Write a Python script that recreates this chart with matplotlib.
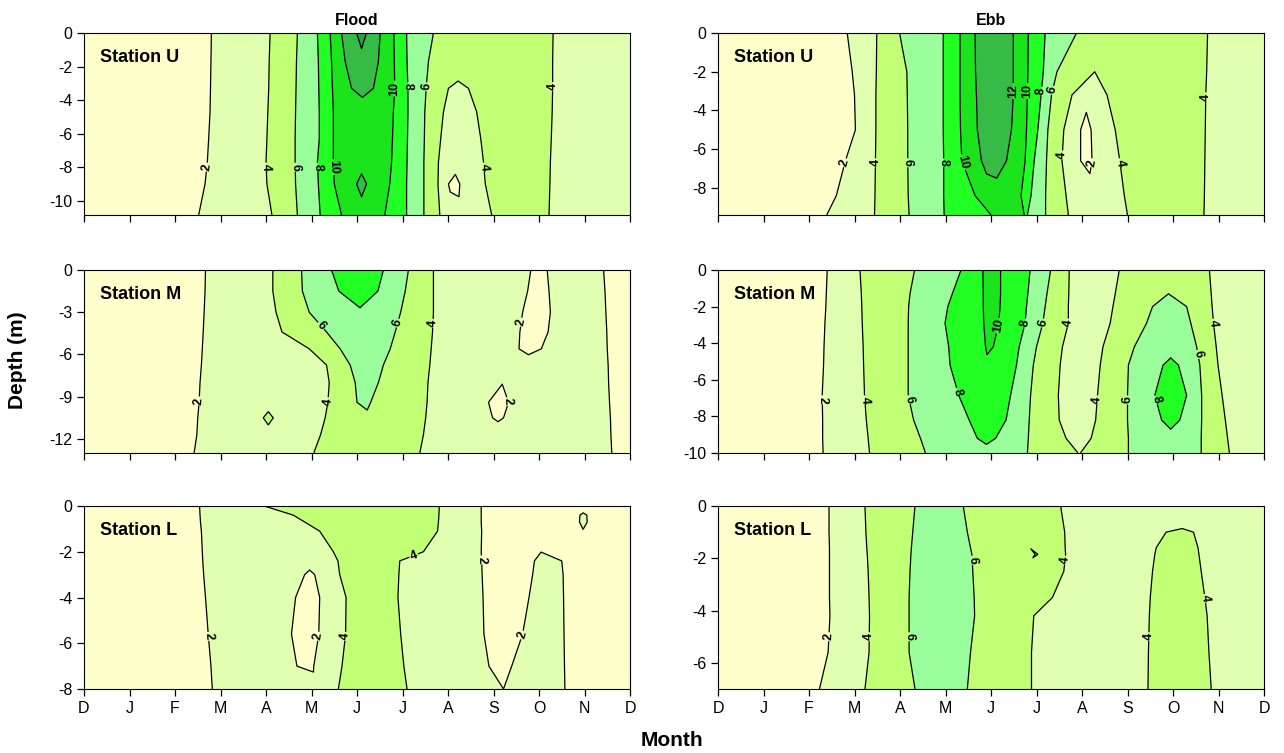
import numpy as np
import matplotlib
matplotlib.use("Agg")
import matplotlib.pyplot as plt
import matplotlib.tri as mtri

plt.rcParams['font.family'] = ['Liberation Sans', 'DejaVu Sans']
plt.rcParams['axes.unicode_minus'] = False

month_labels = ['D', 'J', 'F', 'M', 'A', 'M', 'J', 'J', 'A', 'S', 'O', 'N', 'D']
levels = [0, 2, 4, 6, 8, 10, 12, 14, 16]
fill_colors = ['#FFFFCC', '#E1FFB0', '#C1FF74', '#9AFF9A', '#22FF22',
               '#1CE41C', '#36BC46', '#2C9C48']

# ---- Flood, station U : values read along rows of constant depth
flood_u_depth = [0, -1.7, -3.3, -4.7, -6.3, -7.7, -9.0, -10.85]
flood_u_month = [
    [0, 2.80, 4.09, 4.69, 5.13, 5.41, 5.66, 5.99, 6.10, 6.21, 6.51, 6.81, 7.09, 7.68, 9.3, 10.31, 12],
    [0, 2.79, 4.07, 4.67, 5.15, 5.44, 5.74, 6.10, 6.47, 6.82, 7.10, 7.57, 8.2, 9.3, 10.3, 12],
    [0, 2.78, 4.06, 4.66, 5.16, 5.46, 5.88, 6.12, 6.36, 6.83, 7.12, 7.52, 8.01, 8.23, 8.45, 9.4, 10.3, 12],
    [0, 2.77, 4.04, 4.65, 5.17, 5.48, 6.12, 6.80, 7.12, 7.49, 7.90, 8.25, 8.63, 9.5, 10.29, 12],
    [0, 2.74, 4.02, 4.64, 5.17, 5.48, 6.12, 6.78, 7.11, 7.48, 7.84, 8.28, 8.72, 9.5, 10.27, 12],
    [0, 2.71, 4.00, 4.64, 5.13, 5.48, 6.10, 6.76, 7.10, 7.47, 7.79, 8.2, 8.78, 9.5, 10.25, 12],
    [0, 2.66, 4.02, 4.65, 5.15, 5.50, 5.99, 6.10, 6.21, 6.72, 7.09, 7.47, 7.78, 8.01, 8.13, 8.26, 8.82, 9.5, 10.24, 12],
    [0, 2.52, 4.13, 4.69, 5.19, 5.66, 6.1, 6.61, 7.09, 7.47, 7.82, 8.4, 8.96, 9.5, 10.22, 12],
]
flood_u_value = [
    [1, 2, 4, 6, 8, 10, 12, 14, 14.6, 14, 12, 10, 8, 6, 5, 4, 3],
    [1, 2, 4, 6, 8, 10, 12, 13.5, 12, 10, 8, 6, 4.8, 5, 4, 3],
    [1, 2, 4, 6, 8, 10, 12, 12.5, 12, 10, 8, 6, 4, 3.7, 4, 5, 4, 3],
    [1, 2, 4, 6, 8, 10, 11.2, 10, 8, 6, 4, 3, 4, 5, 4, 3],
    [1, 2, 4, 6, 8, 10, 11.2, 10, 8, 6, 4, 3, 4, 5, 4, 3],
    [1, 2, 4, 6, 8, 10, 11.2, 10, 8, 6, 4, 2.9, 4, 5, 4, 3],
    [1, 2, 4, 6, 8, 10, 12, 12.7, 12, 10, 8, 6, 4, 2, 1.3, 2, 4, 5, 4, 3],
    [1, 2, 4, 6, 8, 10, 11.0, 10, 8, 6, 4, 3, 4, 5, 4, 3],
]

# ---- Ebb, station U
ebb_u_depth = [0, -2, -3.2, -5, -6.6, -8.4, -9.4]
ebb_u_month = [
    [0, 2.84, 3.49, 3.99, 4.95, 5.32, 5.65, 6.07, 6.49, 6.82, 7.19, 7.88, 9.2, 10.76, 12],
    [0, 2.95, 3.48, 4.15, 4.95, 5.32, 5.66, 6.07, 6.49, 6.81, 7.15, 7.45, 8.28, 9.2, 10.74, 12],
    [0, 3.0, 3.47, 4.16, 4.95, 5.32, 5.68, 6.07, 6.49, 6.80, 7.10, 7.33, 7.78, 8.1, 8.55, 9.3, 10.72, 12],
    [0, 3.02, 3.47, 4.17, 4.95, 5.33, 5.70, 6.05, 6.45, 6.78, 7.03, 7.25, 7.60, 7.97, 8.09, 8.20, 8.73, 9.5, 10.71, 12],
    [0, 2.8, 3.46, 4.17, 4.96, 5.36, 5.79, 6.05, 6.34, 6.75, 6.95, 7.22, 7.56, 7.97, 8.1, 8.22, 8.83, 9.6, 10.70, 12],
    [0, 2.6, 3.45, 4.18, 4.96, 5.65, 6.2, 6.66, 6.88, 7.2, 7.65, 8.3, 8.93, 9.6, 10.69, 12],
    [0, 2.39, 3.44, 4.2, 4.97, 6.0, 6.35, 6.73, 6.8, 7.2, 7.7, 8.35, 9.0, 9.7, 10.68, 12],
]
ebb_u_value = [
    [1, 2, 4, 6, 8, 10, 12, 13, 12, 10, 8, 6, 5, 4, 3],
    [1, 2, 4, 6, 8, 10, 12, 13, 12, 10, 8, 6, 4, 5, 4, 3],
    [1, 2, 4, 6, 8, 10, 12, 13, 12, 10, 8, 6, 4, 2.5, 4, 5, 4, 3],
    [1, 2, 4, 6, 8, 10, 12, 13, 12, 10, 8, 6, 4, 2, 1.5, 2, 4, 5, 4, 3],
    [1, 2, 4, 6, 8, 10, 12, 13.2, 12, 10, 8, 6, 4, 2, 1.3, 2, 4, 5, 4, 3],
    [1, 2, 4, 6, 8, 10, 10.8, 10, 8, 6, 4, 3.2, 4, 5, 4, 3],
    [1, 2, 4, 6, 8, 10, 10.6, 10, 8, 6, 4, 3.2, 4, 5, 4, 3],
]

# ---- Flood, station M
flood_m_depth = [0, -1.5, -3.0, -4.4, -5.6, -6.75, -8.0, -9.4, -10.5, -11.7, -13]
flood_m_month = [
    [0, 2.67, 4.15, 4.78, 5.44, 6.0, 6.58, 7.13, 7.68, 9.0, 9.82, 10.0, 10.18, 10.8, 11.42, 12],
    [0, 2.66, 4.15, 4.80, 5.6, 6.05, 6.46, 7.06, 7.68, 9.0, 9.75, 9.98, 10.22, 10.8, 11.45, 12],
    [0, 2.64, 4.22, 4.95, 6.07, 6.96, 7.68, 9.0, 9.64, 9.95, 10.25, 10.8, 11.47, 12],
    [0, 2.62, 4.35, 5.33, 6.1, 6.84, 7.66, 9.0, 9.58, 9.9, 10.2, 10.8, 11.49, 12],
    [0, 2.6, 4.95, 5.63, 6.2, 6.73, 7.63, 9.0, 9.56, 9.78, 10.05, 10.8, 11.5, 12],
    [0, 2.58, 5.33, 5.85, 6.22, 6.58, 7.6, 9.0, 9.75, 10.8, 11.52, 12],
    [0, 2.55, 4.05, 5.39, 5.96, 6.2, 6.47, 7.56, 9.2, 10.5, 11.53, 12],
    [0, 2.53, 4.05, 5.36, 6.0, 6.15, 6.3, 7.54, 8.89, 9.1, 9.33, 10.5, 11.55, 12],
    [0, 2.5, 3.94, 4.05, 4.16, 4.7, 5.3, 6.3, 7.51, 8.98, 9.1, 9.22, 10.5, 11.57, 12],
    [0, 2.48, 4.05, 5.2, 6.3, 7.46, 9.1, 10.5, 11.58, 12],
    [0, 2.42, 4.05, 5.05, 6.3, 7.38, 9.1, 10.5, 11.6, 12],
]
flood_m_value = [
    [1, 2, 4, 6, 8, 8.8, 8, 6, 4, 3, 2, 1.6, 2, 3, 2, 1],
    [1, 2, 4, 6, 8, 9.5, 8, 6, 4, 3, 2, 1.5, 2, 3, 2, 1],
    [1, 2, 4, 6, 7.6, 6, 4, 3, 2, 1.4, 2, 3, 2, 1],
    [1, 2, 4, 6, 7.2, 6, 4, 3, 2, 1.5, 2, 3, 2, 1],
    [1, 2, 4, 6, 7, 6, 4, 3, 2, 1.6, 2, 3, 2, 1],
    [1, 2, 4, 6, 6.8, 6, 4, 3, 2.7, 3, 2, 1],
    [1, 2, 3.05, 4, 6, 6.6, 6, 4, 2.05, 3, 2, 1],
    [1, 2, 3.07, 4, 6, 6.6, 6, 4, 2, 1.4, 2, 3, 2, 1],
    [1, 2, 4, 4.62, 4, 3.6, 4, 5.4, 4, 2, 1.7, 2, 3, 2, 1],
    [1, 2, 3.15, 4, 5.3, 4, 3, 3, 2, 1],
    [1, 2, 3.2, 4, 5.2, 4, 3, 3, 2, 1],
]

# ---- Ebb, station M
ebb_m_depth = [0, -1.3, -2.0, -2.9, -4.2, -5.2, -6.85, -8.2, -9.2, -10]
ebb_m_month = [
    [0, 2.40, 3.12, 4.32, 5.34, 5.82, 6.02, 6.21, 6.86, 7.31, 7.72, 8.27, 8.82, 9.9, 10.8, 12],
    [0, 2.38, 3.15, 4.22, 5.15, 5.83, 6.02, 6.21, 6.81, 7.23, 7.71, 8.2, 8.73, 9.9, 10.84, 12],
    [0, 2.37, 3.16, 4.19, 5.05, 5.83, 6.01, 6.2, 6.78, 7.19, 7.7, 8.18, 8.68, 9.55, 9.9, 10.3, 10.86, 12],
    [0, 2.35, 3.17, 4.18, 4.99, 5.84, 6.0, 6.17, 6.75, 7.14, 7.70, 8.15, 8.62, 9.42, 9.9, 10.39, 10.89, 12],
    [0, 2.33, 3.19, 4.18, 5.07, 5.88, 5.96, 6.05, 6.62, 7.0, 7.57, 8.0, 8.46, 9.15, 9.95, 10.52, 10.95, 12],
    [0, 2.32, 3.2, 4.18, 5.1, 5.85, 6.56, 6.93, 7.52, 7.95, 8.4, 9.02, 9.78, 9.95, 10.12, 10.59, 10.99, 12],
    [0, 2.29, 3.22, 4.18, 5.29, 5.85, 6.43, 6.87, 7.48, 7.95, 8.34, 9.0, 9.6, 9.95, 10.3, 10.63, 11.08, 12],
    [0, 2.3, 3.26, 4.3, 5.52, 5.9, 6.33, 6.84, 7.5, 7.9, 8.3, 9.0, 9.75, 9.95, 10.15, 10.63, 11.15, 12],
    [0, 2.3, 3.3, 4.45, 5.7, 5.9, 6.1, 6.82, 7.65, 7.94, 8.2, 9.02, 9.95, 10.62, 11.2, 12],
    [0, 2.31, 3.33, 4.56, 5.9, 6.8, 7.94, 9.02, 9.95, 10.62, 11.24, 12],
]
ebb_m_value = [
    [1, 2, 4, 6, 8, 10, 10.6, 10, 8, 6, 4, 3.5, 4, 5.5, 4, 3],
    [1, 2, 4, 6, 8, 10, 10.7, 10, 8, 6, 4, 3.5, 4, 6, 4, 3],
    [1, 2, 4, 6, 8, 10, 10.6, 10, 8, 6, 4, 3.3, 4, 6, 6.5, 6, 4, 3],
    [1, 2, 4, 6, 8, 10, 10.5, 10, 8, 6, 4, 3, 4, 6, 7, 6, 4, 3],
    [1, 2, 4, 6, 8, 10, 10.3, 10, 8, 6, 4, 3, 4, 6, 7.4, 6, 4, 3],
    [1, 2, 4, 6, 8, 9.6, 8, 6, 4, 2.8, 4, 6, 8, 8.4, 8, 6, 4, 3],
    [1, 2, 4, 6, 8, 9.2, 8, 6, 4, 2.8, 4, 6, 8, 9, 8, 6, 4, 3],
    [1, 2, 4, 6, 8, 8.7, 8, 6, 4, 2.9, 4, 6, 8, 8.5, 8, 6, 4, 3],
    [1, 2, 4, 6, 8, 8.35, 8, 6, 4, 3.4, 4, 6, 7.5, 6, 4, 3],
    [1, 2, 4, 6, 7.5, 6, 3.95, 6, 7.2, 6, 4, 3],
]

# ---- Flood, station L
flood_l_depth = [0, -0.4, -0.7, -1.1, -2.0, -2.4, -3.0, -4.0, -5.6, -7.0, -8]
flood_l_month = [
    [0, 2.54, 3.96, 4.6, 5.5, 7.81, 8.73, 9.6, 10.97, 12],
    [0, 2.55, 4.6, 5.5, 7.8, 8.73, 9.6, 10.9, 10.97, 11.05, 12],
    [0, 2.56, 4.85, 6.2, 7.79, 8.73, 9.6, 10.89, 10.97, 11.06, 12],
    [0, 2.58, 5.18, 6.4, 7.77, 8.74, 9.6, 10.97, 12],
    [0, 2.6, 5.48, 6.5, 7.46, 8.73, 9.3, 10.04, 11.3, 12],
    [0, 2.61, 4.96, 5.58, 6.3, 6.94, 8.0, 8.74, 9.3, 9.9, 10.2, 10.5, 11.3, 12],
    [0, 2.63, 3.7, 4.85, 4.96, 5.07, 5.62, 6.3, 6.92, 8.0, 8.75, 9.3, 9.86, 10.2, 10.53, 11.3, 12],
    [0, 2.67, 3.7, 4.65, 4.9, 5.18, 5.76, 6.3, 6.9, 8.0, 8.77, 9.3, 9.78, 10.2, 10.54, 11.3, 12],
    [0, 2.73, 3.7, 4.56, 4.87, 5.16, 5.75, 6.3, 6.96, 8.0, 8.79, 9.2, 9.64, 10.1, 10.55, 11.3, 12],
    [0, 2.79, 3.7, 4.68, 4.85, 5.05, 5.67, 6.3, 7.03, 8.0, 8.9, 9.15, 9.4, 10.0, 10.56, 11.3, 12],
    [0, 2.82, 5.59, 6.3, 7.1, 8.0, 9.22, 10.0, 10.57, 11.3, 12],
]
flood_l_value = [
    [1, 2, 4, 4.15, 4.6, 4, 2, 1.5, 1.7, 1],
    [1, 2, 4, 4.8, 4, 2, 1.5, 2, 2.1, 2, 1],
    [1, 2, 4, 4.9, 4, 2, 1.5, 2, 2.2, 2, 1],
    [1, 2, 4, 5, 4, 2, 1.5, 1.95, 1],
    [1, 2, 4, 5, 4, 2, 1.5, 1.98, 1.5, 1],
    [1, 2, 2.6, 4, 4.8, 4, 3, 2, 1.5, 2, 2.5, 2, 1.5, 1],
    [1, 2, 3, 2, 1.7, 2, 4, 4.8, 4, 3, 2, 1.5, 2, 2.6, 2, 1.5, 1],
    [1, 2, 3, 2, 1.5, 2, 4, 4.8, 4, 3, 2, 1.5, 2, 2.7, 2, 1.5, 1],
    [1, 2, 3, 2, 1.5, 2, 4, 4.8, 4, 3, 2, 1.5, 2, 2.8, 2, 1.5, 1],
    [1, 2, 3, 2, 1.3, 2, 4, 4.8, 4, 3, 2, 1.7, 2, 2.8, 2, 1.5, 1],
    [1, 2, 4, 4.8, 4, 3, 2, 2.8, 2, 1.5, 1],
]

# ---- Ebb, station L
ebb_l_depth = [0, -1.0, -1.6, -1.85, -2.5, -3.5, -4.2, -5.6, -7]
ebb_l_month = [
    [0, 2.44, 3.23, 4.33, 4.86, 5.39, 7.53, 10.2, 12],
    [0, 2.44, 3.25, 4.28, 4.9, 5.48, 6.5, 7.62, 8.6, 9.85, 10.2, 10.45, 12],
    [0, 2.45, 3.27, 4.25, 4.9, 5.55, 6.5, 7.63, 8.6, 9.63, 10.1, 10.55, 12],
    [0, 2.45, 3.28, 4.24, 4.9, 5.58, 6.5, 6.97, 7.0, 7.03, 7.35, 7.64, 8.6, 9.6, 10.1, 10.57, 12],
    [0, 2.45, 3.3, 4.22, 4.9, 5.6, 6.6, 7.6, 8.6, 9.55, 10.1, 10.62, 12],
    [0, 2.45, 3.32, 4.2, 4.9, 5.63, 6.6, 7.35, 8.6, 9.5, 10.1, 10.7, 12],
    [0, 2.46, 3.33, 4.2, 4.9, 5.64, 6.3, 6.94, 8.2, 9.48, 10.1, 10.75, 12],
    [0, 2.42, 3.32, 4.2, 4.9, 5.55, 6.3, 6.89, 8.2, 9.46, 10.1, 10.79, 12],
    [0, 2.23, 3.23, 4.33, 4.9, 5.48, 6.3, 6.89, 8.2, 9.45, 10.1, 10.84, 12],
]
ebb_l_value = [
    [1, 2, 4, 6, 6.7, 6, 4, 3.5, 3],
    [1, 2, 4, 6, 6.8, 6, 4.6, 4, 3.5, 4, 4.08, 4, 3],
    [1, 2, 4, 6, 6.8, 6, 4.6, 4, 3.5, 4, 4.4, 4, 3],
    [1, 2, 4, 6, 6.8, 6, 4.6, 4, 3.8, 4, 4.3, 4, 3.5, 4, 4.5, 4, 3],
    [1, 2, 4, 6, 6.8, 6, 4.8, 4, 3.5, 4, 4.6, 4, 3],
    [1, 2, 4, 6, 6.8, 6, 4.8, 4, 3.5, 4, 4.7, 4, 3],
    [1, 2, 4, 6, 6.8, 6, 4.8, 4, 3.3, 4, 4.7, 4, 3],
    [1, 2, 4, 6, 6.8, 6, 4.8, 4, 3.3, 4, 4.7, 4, 3],
    [1, 2, 4, 6, 6.7, 6, 4.8, 4, 3.3, 4, 4.7, 4, 3],
]

# where the contour labels sit (month, depth)
flood_u_labels = [(2.71, -8), (4.0, -8), (4.62, -8), (5.1, -8), (5.48, -8),
                  (6.78, -3.3), (7.11, -3.2), (7.5, -3.2), (8.75, -8), (10.28, -3.2)]
ebb_u_labels = [(2.78, -6.7), (3.47, -6.7), (4.18, -6.7), (4.95, -6.7), (5.35, -6.7),
                (6.47, -3.0), (6.81, -3.0), (7.12, -3.0), (7.42, -3.0),
                (7.56, -6.3), (8.2, -6.7), (8.83, -6.7), (10.7, -3.3)]
flood_m_labels = [(2.53, -9.3), (5.2, -4.0), (6.92, -3.8), (7.68, -3.8),
                  (9.6, -3.7), (5.35, -9.35), (9.33, -9.35)]
ebb_m_labels = [(2.3, -7.1), (3.22, -7.1), (4.18, -7.1), (5.31, -6.64), (6.17, -3.05),
                (6.75, -2.9), (7.14, -2.9), (7.7, -2.9), (8.34, -7.1), (8.98, -7.1),
                (9.62, -7.1), (10.58, -4.6), (10.92, -2.9)]
flood_l_labels = [(2.75, -5.7), (5.17, -5.7), (5.75, -5.7), (7.25, -2.2),
                  (8.73, -2.36), (9.66, -5.66)]
ebb_l_labels = [(2.44, -5.0), (3.33, -5.0), (4.2, -5.0), (5.6, -2.07), (7.62, -2.07),
                (9.47, -5.0), (10.71, -3.54)]


def panel(ax, depth, month, value, bottom, yticks, label_pos, station):
    x = np.concatenate([np.asarray(m, float) for m in month])
    y = np.concatenate([np.full(len(m), d, float) for m, d in zip(month, depth)])
    z = np.concatenate([np.asarray(v, float) for v in value])
    tri = mtri.Triangulation(x, y)
    ax.tricontourf(tri, z, levels=levels, colors=fill_colors, antialiased=True)
    cs = ax.tricontour(tri, z, levels=levels[1:-1], colors='k', linewidths=0.9)
    texts = ax.clabel(cs, manual=label_pos, fmt='%d', fontsize=9,
                      inline=True, inline_spacing=1)
    for t in texts:
        t.set_fontweight('bold')
    ax.set_xlim(0, 12)
    ax.set_ylim(bottom, 0)
    ax.set_xticks(range(13))
    ax.set_yticks(yticks)
    ax.tick_params(direction='out', length=5, width=0.9, labelsize=11.5)
    ax.text(0.03, 0.865, station, transform=ax.transAxes, fontsize=13,
            fontweight='bold', ha='left', va='center')


fig = plt.figure(figsize=(12.84, 7.53), dpi=100)
W, H = 1284, 753
col_left = [84, 718]
row_top = [(33, 215), (270, 453), (506, 689)]
axes = {}
for r, (t, b) in enumerate(row_top):
    for c, l in enumerate(col_left):
        axes[(r, c)] = fig.add_axes([l / W, 1 - b / H, 546 / W, (b - t) / H])

panel(axes[(0, 0)], flood_u_depth, flood_u_month, flood_u_value, -10.85,
      [0, -2, -4, -6, -8, -10], flood_u_labels, 'Station U')
panel(axes[(0, 1)], ebb_u_depth, ebb_u_month, ebb_u_value, -9.4,
      [0, -2, -4, -6, -8], ebb_u_labels, 'Station U')
panel(axes[(1, 0)], flood_m_depth, flood_m_month, flood_m_value, -13,
      [0, -3, -6, -9, -12], flood_m_labels, 'Station M')
panel(axes[(1, 1)], ebb_m_depth, ebb_m_month, ebb_m_value, -10,
      [0, -2, -4, -6, -8, -10], ebb_m_labels, 'Station M')
panel(axes[(2, 0)], flood_l_depth, flood_l_month, flood_l_value, -8,
      [0, -2, -4, -6, -8], flood_l_labels, 'Station L')
panel(axes[(2, 1)], ebb_l_depth, ebb_l_month, ebb_l_value, -7,
      [0, -2, -4, -6], ebb_l_labels, 'Station L')

for (r, c), ax in axes.items():
    if r < 2:
        ax.set_xticklabels([])
    else:
        ax.set_xticklabels(month_labels)

axes[(0, 0)].set_title('Flood', fontsize=11.5, fontweight='bold', pad=6)
axes[(0, 1)].set_title('Ebb', fontsize=11.5, fontweight='bold', pad=6)
fig.text(0.014, 0.522, 'Depth (m)', rotation=90, fontsize=15, fontweight='bold',
         ha='center', va='center')
fig.text(0.523, 0.016, 'Month', fontsize=15, fontweight='bold',
         ha='center', va='center')

fig.savefig('out.png', dpi=100)
